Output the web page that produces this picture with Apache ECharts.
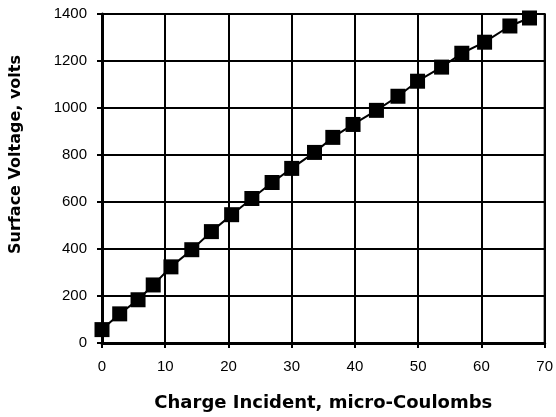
<!DOCTYPE html>
<html>
<head>
<meta charset="utf-8">
<script src="https://cdn.jsdelivr.net/npm/echarts@6/dist/echarts.min.js"></script>
<style>
html,body{margin:0;padding:0;background:#fff;}
#chart{width:556px;height:417px;}
</style>
</head>
<body>
<div id="chart"></div>
<script>
const chargeIncident = [0, 2.8, 5.7, 8.1, 10.9, 14.2, 17.3, 20.5, 23.7, 26.9, 30.0, 33.6, 36.5, 39.7, 43.4, 46.8, 49.9, 53.7, 56.9, 60.5, 64.5, 67.6];
const surfaceVoltage = [57, 124, 184, 247, 324, 397, 474, 546, 615, 683, 743, 811, 875, 930, 990, 1050, 1114, 1174, 1233, 1280, 1349, 1383];
const xTitle = 'Charge Incident, micro-Coulombs';
const yTitle = 'Surface Voltage, volts';

const points = chargeIncident.map((x, i) => [x, surfaceVoltage[i]]);
const chart = echarts.init(document.getElementById('chart'));
chart.setOption({
  animation: false,
  backgroundColor: '#fff',
  grid: { left: 102, right: 10, top: 14, bottom: 74, show: true, borderColor: '#000', borderWidth: 2 },
  xAxis: {
    type: 'value', min: 0, max: 70, interval: 10,
    name: xTitle, nameLocation: 'middle', nameGap: 51,
    nameTextStyle: { fontFamily: 'DejaVu Sans', fontWeight: 'bold', fontSize: 18, color: '#000' },
    axisLine: { show: true, lineStyle: { color: '#000', width: 3 } },
    axisTick: { show: true, length: 5, lineStyle: { color: '#000', width: 2 } },
    axisLabel: { fontFamily: 'Liberation Sans', fontSize: 15, color: '#000', margin: 16,
      formatter: v => String(v) },
    splitLine: { show: true, lineStyle: { color: '#000', width: 2 } }
  },
  yAxis: {
    type: 'value', min: 0, max: 1400, interval: 200,
    axisLine: { show: true, lineStyle: { color: '#000', width: 3 } },
    axisTick: { show: true, length: 5, lineStyle: { color: '#000', width: 2 } },
    axisLabel: { fontFamily: 'Liberation Sans', fontSize: 15, color: '#000', margin: 15,
      formatter: v => String(v) },
    splitLine: { show: true, lineStyle: { color: '#000', width: 2 } }
  },
  graphic: [{
    type: 'text', left: 8, top: 55, rotation: Math.PI / 2,
    style: { text: yTitle, font: 'bold 16px "DejaVu Sans"', fill: '#000' }
  }],
  series: [{
    type: 'line', data: points,
    symbol: 'rect', symbolSize: 15,
    itemStyle: { color: '#000' },
    lineStyle: { color: '#000', width: 2 }
  }]
});
</script>
</body>
</html>
